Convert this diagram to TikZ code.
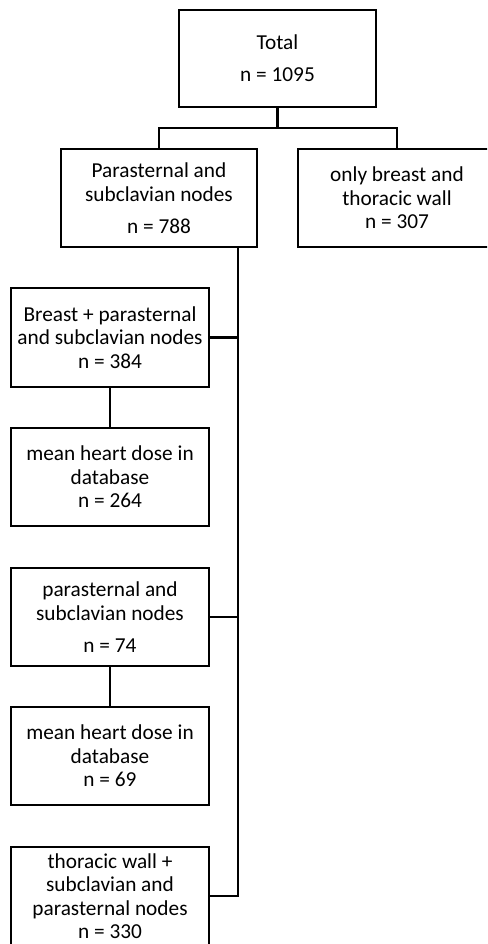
\documentclass[tikz,border=0pt]{standalone}
\usepackage{fontspec}
\setmainfont{Carlito}
\begin{document}
\begin{tikzpicture}[x=1pt,y=-1pt,
  box/.style={draw=black, line width=2.5pt, fill=white, align=center, inner sep=0pt,
    font=\fontsize{21.3}{23.5}\selectfont},
  conn/.style={draw=black, line width=2.5pt}]
\useasboundingbox (0,0) rectangle (487,944);
\clip (0,0) rectangle (487,944);
\node[box, minimum width=197pt, minimum height=97pt] (total) at (277.5,58.5) {Total\\[8.5pt] n = 1095};
\node[box, minimum width=196pt, minimum height=98pt] (para) at (159,198) {Parasternal and\\ subclavian nodes\\[8.5pt] n = 788};
\node[box, minimum width=198pt, minimum height=98pt] (only) at (397,198) {only breast and\\ thoracic wall\\ n = 307};
\node[box, minimum width=198pt, minimum height=99pt] (breast) at (110,337.5) {Breast + parasternal\\ and subclavian nodes\\ n = 384};
\node[box, minimum width=198pt, minimum height=98pt] (mean1) at (110,477) {mean heart dose in\\ database\\ n = 264};
\node[box, minimum width=198pt, minimum height=98pt] (para2) at (110,617) {parasternal and\\ subclavian nodes\\[8.5pt] n = 74};
\node[box, minimum width=198pt, minimum height=98pt] (mean2) at (110,756) {mean heart dose in\\ database\\ n = 69};
\node[box, minimum width=198pt, minimum height=98pt] (thor) at (110,896) {thoracic wall +\\ subclavian and\\ parasternal nodes\\ n = 330};
\coordinate (split) at (277.5,128);
\coordinate (trunkend) at (238,896);
\draw[conn] (total.south) -- (split);
\draw[conn] (para.north) |- (split) -| (only.north);
\draw[conn] (para.south -| trunkend) -- (trunkend) -- (thor.east);
\draw[conn] (breast.east) -- (breast.east -| trunkend);
\draw[conn] (para2.east) -- (para2.east -| trunkend);
\draw[conn] (breast) -- (mean1);
\draw[conn] (para2) -- (mean2);
\end{tikzpicture}
\end{document}
